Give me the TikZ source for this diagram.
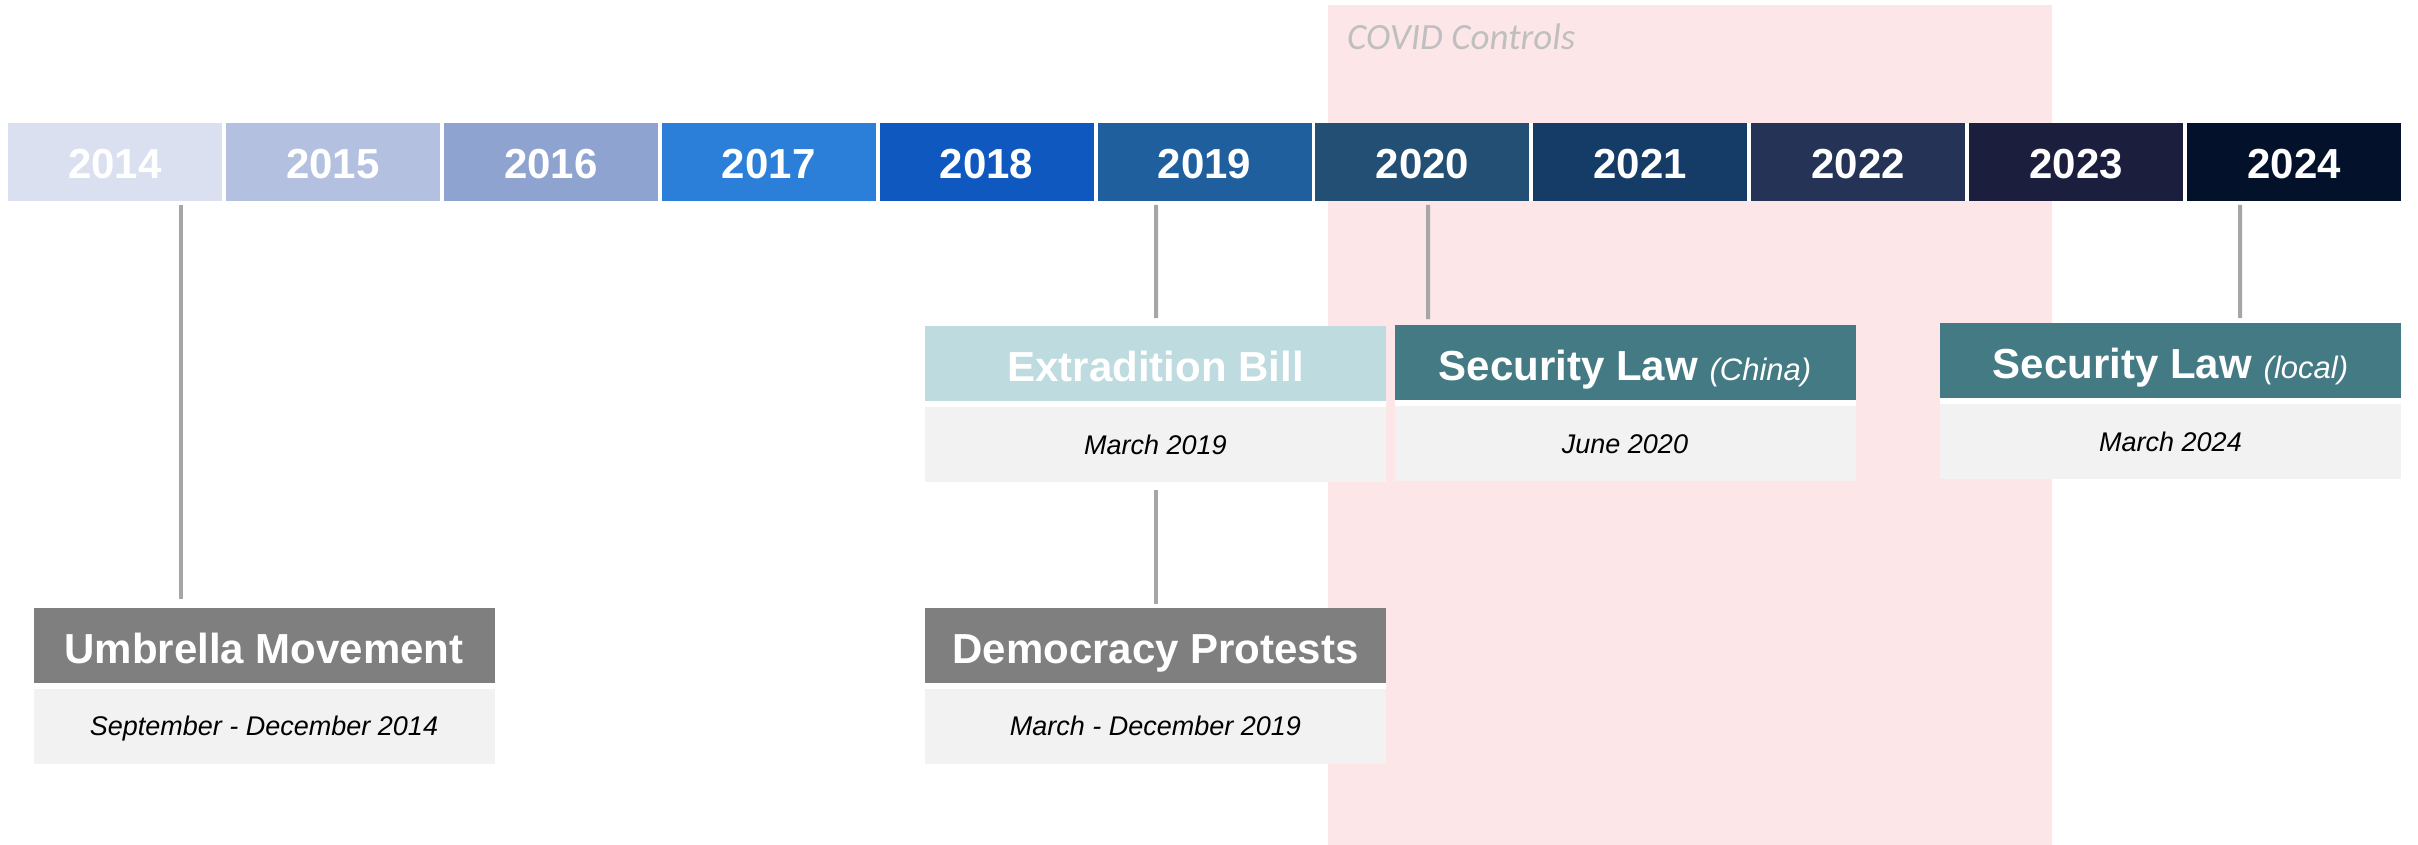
\documentclass[tikz,border=0pt]{standalone}
\usepackage{fontspec}
\setmainfont{Liberation Sans}
\newfontfamily\covidfont{Carlito}
\definecolor{covidpink}{RGB}{253,230,231}
\definecolor{covidtextgray}{RGB}{191,191,191}
\definecolor{c2014}{RGB}{218,224,240}
\definecolor{c2015}{RGB}{180,192,223}
\definecolor{c2016}{RGB}{143,163,208}
\definecolor{c2017}{RGB}{43,127,216}
\definecolor{c2018}{RGB}{15,88,192}
\definecolor{c2019}{RGB}{31,95,158}
\definecolor{c2020}{RGB}{35,79,117}
\definecolor{c2021}{RGB}{21,60,102}
\definecolor{c2022}{RGB}{36,51,86}
\definecolor{c2023}{RGB}{28,30,62}
\definecolor{c2024}{RGB}{3,18,42}
\definecolor{headgray}{RGB}{127,127,127}
\definecolor{headlight}{RGB}{190,219,223}
\definecolor{headteal}{RGB}{67,122,132}
\definecolor{dategray}{RGB}{242,242,242}
\definecolor{linegray}{RGB}{166,166,166}
\begin{document}
\begin{tikzpicture}[x=1pt,y=-1pt,
  yearbar/.style={outer sep=0pt, inner sep=0pt,
    minimum width=214pt, minimum height=78pt, text=white,
    font=\fontsize{42}{50}\selectfont\bfseries, text height=34pt, text depth=0pt},
  evhead/.style={outer sep=0pt, inner sep=0pt,
    minimum width=461pt, minimum height=75pt, text=white,
    font=\fontsize{42}{50}\selectfont\bfseries, text height=35pt, text depth=0pt},
  evdate/.style={outer sep=0pt, inner sep=0pt,
    fill=dategray, minimum width=461pt, minimum height=75pt, text=black,
    font=\fontsize{27}{32}\selectfont\itshape, text height=19pt, text depth=0pt},
  gapfill/.style={fill=white},
  conn/.style={draw=linegray, line width=4pt},
  covidlabel/.style={inner sep=0pt, text=covidtextgray,
    font=\fontsize{37}{44}\selectfont\covidfont\itshape}
]
\useasboundingbox (0,0) rectangle (2418,845);
\fill[white] (0,0) rectangle (2418,845);
% COVID period
\fill[covidpink] (1328,5) rectangle (2052,845);
\node[covidlabel, anchor=base west] (covid) at (1347,50) {COVID Controls};
% year bars
\foreach \yr [count=\i from 0] in {2014,2015,2016,2017,2018,2019,2020,2021,2022,2023,2024}{
  \node[yearbar, fill=c\yr] (y\yr) at ({115+217.9*\i},162) {\yr};
}
% white gaps between year bars
\foreach \a/\b in {2014/2015,2015/2016,2016/2017,2017/2018,2018/2019,2019/2020,2020/2021,2021/2022,2022/2023,2023/2024}{
  \fill[gapfill] (y\a.north east) rectangle (y\b.south west);
}
% events
\node[evhead, fill=headgray] (umbhead) at (264,645.5) {Umbrella Movement};
\node[evdate] (umbdate) at (264,726) {September - December 2014};
\node[evhead, fill=headlight] (exhead) at (1155.5,363.5) {Extradition Bill};
\node[evdate] (exdate) at (1155.5,444.5) {March 2019};
\node[evhead, fill=headgray] (demhead) at (1155.5,645.5) {Democracy Protests};
\node[evdate] (demdate) at (1155.5,726) {March - December 2019};
\node[evhead, fill=headteal] (chinahead) at (1625,362.5) {Security Law {\fontsize{31}{36}\selectfont\mdseries\itshape (China)}};
\node[evdate] (chinadate) at (1625,443.5) {June 2020};
\node[evhead, fill=headteal] (localhead) at (2170.5,360.5) {Security Law {\fontsize{31}{36}\selectfont\mdseries\itshape (local)}};
\node[evdate] (localdate) at (2170.5,441.5) {March 2024};
% white bands between header and date
\foreach \h/\d in {umbhead/umbdate,exhead/exdate,demhead/demdate,chinahead/chinadate,localhead/localdate}{
  \fill[gapfill] (\h.south west) rectangle (\d.north east);
}
% connectors
\draw[conn] ([xshift=66pt,yshift=-4pt]y2014.south) -- ([xshift=-83pt,yshift=9pt]umbhead.north);
\draw[conn] ([xshift=-48.5pt,yshift=-4pt]y2019.south) -- ([xshift=0.5pt,yshift=8pt]exhead.north);
\draw[conn] ([xshift=0.5pt,yshift=-8pt]exdate.south) -- ([xshift=0.5pt,yshift=4pt]demhead.north);
\draw[conn] ([xshift=5.6pt,yshift=-4pt]y2020.south) -- ([xshift=-197pt,yshift=6pt]chinahead.north);
\draw[conn] ([xshift=-54pt,yshift=-4pt]y2024.south) -- ([xshift=69.5pt,yshift=5pt]localhead.north);
\end{tikzpicture}
\end{document}
